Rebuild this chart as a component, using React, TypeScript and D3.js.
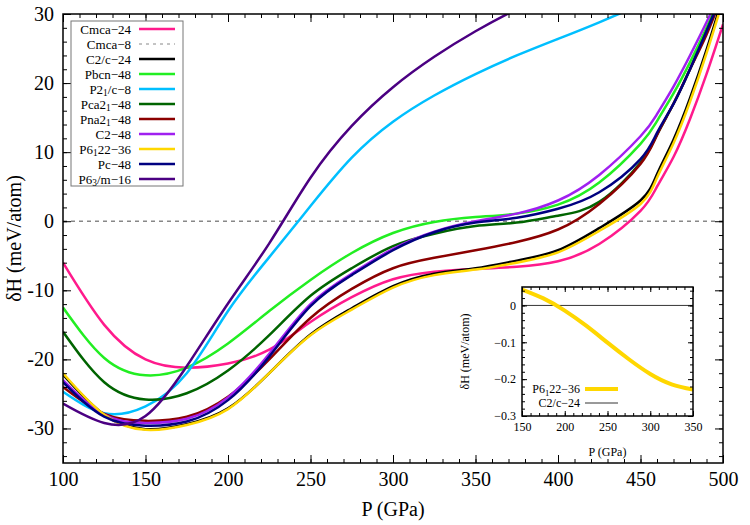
import React, { useEffect, useRef } from "react";
import * as d3 from "d3";

// pressure grid (GPa) shared by every main-panel curve
const pressure = [100, 125, 150, 175, 200, 225, 250, 275, 300, 325, 350, 375, 400, 425, 450, 460, 470, 480, 490, 500];

// enthalpy difference vs Cmca-8 (meV/atom)
const cmca24 = [-6.0, -15.0, -20.0, -21.2, -20.6, -18.6, -14.6, -11.0, -8.4, -7.3, -6.9, -6.6, -5.8, -3.3, 1.5, 5.0, 9.3, 14.8, 21.3, 28.5];
const c2c24 = [-22.2, -28.0, -30.1, -29.4, -27.1, -22.0, -16.4, -12.6, -9.4, -7.6, -6.8, -5.7, -4.2, -1.0, 3.0, 6.8, 11.8, 17.8, 24.8, 32.5];
const pbcn48 = [-12.5, -19.8, -22.3, -21.2, -17.7, -13.0, -8.5, -4.6, -1.7, -0.1, 0.6, 1.1, 2.4, 5.6, 11.2, 14.5, 18.5, 23.0, 28.0, 33.5];
const p21c8 = [-24.7, -27.8, -26.8, -22.0, -13.0, -5.2, 2.2, 9.2, 14.4, 18.2, 21.3, 24.0, 26.4, 28.8, 31.4, 32.6, 33.8, 35.0, 36.2, 37.4];
const pca21_48 = [-16.0, -23.3, -25.8, -24.9, -21.6, -16.5, -10.8, -6.8, -3.6, -1.8, -0.7, -0.2, 0.8, 2.8, 8.5, 12.5, 17.0, 22.0, 27.5, 33.5];
const pna21_48 = [-24.0, -27.9, -28.9, -28.3, -25.4, -20.0, -14.0, -9.8, -6.8, -5.3, -4.2, -3.0, -1.2, 2.5, 8.3, 12.5, 17.0, 22.0, 27.0, 33.0];
const c2_48 = [-23.0, -28.0, -29.2, -28.6, -25.5, -19.2, -12.0, -7.6, -4.0, -1.5, 0.0, 1.1, 3.0, 6.7, 12.3, 15.5, 19.5, 24.0, 28.8, 34.0];
const p6122_36 = [-22.0, -28.0, -30.2, -29.5, -27.2, -22.0, -16.5, -12.8, -9.6, -7.8, -7.0, -6.0, -4.5, -1.4, 2.5, 6.3, 11.3, 17.3, 24.3, 32.0];
const pc48 = [-23.3, -28.3, -29.6, -29.0, -25.9, -19.6, -12.3, -7.8, -4.2, -1.6, -0.2, 0.5, 1.8, 4.2, 9.0, 12.8, 17.0, 22.0, 27.5, 33.0];
const p63m16 = [-26.4, -29.2, -28.2, -21.0, -11.9, -3.2, 6.3, 13.8, 19.4, 23.8, 27.5, 30.7, 33.6, 36.3, 38.8, 39.8, 40.8, 41.8, 42.8, 43.8];

// inset: P6122-36 minus C2/c-24
const insetPressure = [150, 175, 200, 225, 250, 275, 300, 325, 350];
const insetP6122 = [0.043, 0.019, -0.014, -0.055, -0.101, -0.146, -0.186, -0.214, -0.228];

const xTicks = [100, 150, 200, 250, 300, 350, 400, 450, 500];
const yTicks = [-30, -20, -10, 0, 10, 20, 30];
const insetXTicks = [150, 200, 250, 300, 350];
const insetYTicks = [-0.3, -0.2, -0.1, 0];

// "_" marks a one-character subscript
const legendNames = ["Cmca−24", "Cmca−8", "C2/c−24", "Pbcn−48", "P2_1/c−8", "Pca2_1−48", "Pna2_1−48", "C2−48", "P6_122−36", "Pc−48", "P6_3/m−16"];
const legendColors = ["#ff1a8c", "#888888", "#000000", "#22ee22", "#00bfff", "#006400", "#8b0000", "#a020f0", "#ffd700", "#000080", "#4b0082"];

const FONT = "Liberation Serif, DejaVu Serif, serif";

const addLabel = (sel, label) => {
  const parts = label.split(/(_.)/).filter((s) => s.length);
  let shifted = false;
  parts.forEach((p) => {
    if (p.startsWith("_")) {
      sel.append("tspan").attr("dy", "0.3em").attr("font-size", "0.72em").text(p.slice(1));
      shifted = true;
    } else {
      const t = sel.append("tspan").text(p);
      if (shifted) {
        // undo the subscript shift (in the subscript's em)
        t.attr("dy", "-0.216em");
        shifted = false;
      }
    }
  });
};

const drawFrame = (g, x, y, xMajor, xMinor, yMajor, yMinor, big, small, pad, fontSize, xFmt, yFmt) => {
  const [x0, x1] = x.range();
  const [y0, y1] = y.range();
  const axes = [
    [d3.axisBottom, y0, 0, xMajor, xMinor, xFmt],
    [d3.axisTop, y1, 0, xMajor, xMinor, null],
    [d3.axisLeft, 0, x0, yMajor, yMinor, yFmt],
    [d3.axisRight, 0, x1, yMajor, yMinor, null],
  ];
  axes.forEach(([make, ty, tx, major, minor, fmt]) => {
    const scale = make === d3.axisBottom || make === d3.axisTop ? x : y;
    g.append("g")
      .attr("transform", `translate(${tx},${ty})`)
      .call(make(scale).tickValues(minor).tickSizeInner(-small).tickSizeOuter(0).tickFormat(() => ""))
      .call((s) => s.select(".domain").remove());
    g.append("g")
      .attr("transform", `translate(${tx},${ty})`)
      .call(make(scale).tickValues(major).tickSizeInner(-big).tickSizeOuter(0).tickPadding(pad).tickFormat(fmt ? fmt : () => ""))
      .call((s) => s.select(".domain").remove())
      .attr("font-size", fontSize);
  });
  g.append("rect")
    .attr("x", x0)
    .attr("y", y1)
    .attr("width", x1 - x0)
    .attr("height", y0 - y1)
    .attr("fill", "none")
    .attr("stroke", "black")
    .attr("stroke-width", 1.5);
};

const App = () => {
  const ref = useRef(null);

  useEffect(() => {
    const width = 750;
    const height = 525;
    const marginTop = 14;
    const marginRight = 27;
    const marginBottom = 62;
    const marginLeft = 63;

    const svg = d3
      .select(ref.current)
      .attr("width", width)
      .attr("height", height)
      .attr("viewBox", [0, 0, width, height])
      .style("position", "absolute")
      .style("left", "0px")
      .style("top", "0px")
      .style("background", "white");

    svg.selectAll("*").remove();

    const x = d3.scaleLinear().domain([100, 500]).range([marginLeft, width - marginRight]);
    const y = d3.scaleLinear().domain([-35, 30]).range([height - marginBottom, marginTop]);

    svg
      .append("clipPath")
      .attr("id", "plot-clip")
      .append("rect")
      .attr("x", marginLeft)
      .attr("y", marginTop)
      .attr("width", width - marginLeft - marginRight)
      .attr("height", height - marginTop - marginBottom);

    // zero reference (Cmca-8)
    svg
      .append("line")
      .attr("x1", x(100))
      .attr("x2", x(500))
      .attr("y1", y(0))
      .attr("y2", y(0))
      .attr("stroke", "#888888")
      .attr("stroke-width", 1.5)
      .attr("stroke-dasharray", "4,4");

    const series = [
      { values: cmca24, color: legendColors[0] },
      { values: c2c24, color: legendColors[2] },
      { values: pbcn48, color: legendColors[3] },
      { values: p21c8, color: legendColors[4] },
      { values: pca21_48, color: legendColors[5] },
      { values: pna21_48, color: legendColors[6] },
      { values: c2_48, color: legendColors[7] },
      { values: p6122_36, color: legendColors[8] },
      { values: pc48, color: legendColors[9] },
      { values: p63m16, color: legendColors[10] },
    ];

    const line = d3
      .line()
      .x((d) => x(d[0]))
      .y((d) => y(d[1]))
      .curve(d3.curveNatural);

    const curves = svg.append("g").attr("clip-path", "url(#plot-clip)");
    series.forEach((s) => {
      curves
        .append("path")
        .datum(pressure.map((p, i) => [p, s.values[i]]))
        .attr("fill", "none")
        .attr("stroke", s.color)
        .attr("stroke-width", 2.5)
        .attr("d", line);
    });

    drawFrame(
      svg.append("g"),
      x,
      y,
      xTicks,
      d3.range(100, 501, 10),
      yTicks,
      d3.range(-34, 31, 2),
      8,
      4,
      9,
      20,
      (d) => String(d),
      (d) => String(d)
    );

    // axis titles
    svg
      .append("text")
      .attr("x", (marginLeft + width - marginRight) / 2)
      .attr("y", 516)
      .attr("text-anchor", "middle")
      .attr("font-size", 20)
      .text("P (GPa)");
    svg
      .append("text")
      .attr("transform", `translate(21,${(marginTop + height - marginBottom) / 2}) rotate(-90)`)
      .attr("text-anchor", "middle")
      .attr("font-size", 20)
      .text("δH (meV/atom)");

    // legend
    const legend = svg.append("g");
    legend
      .append("rect")
      .attr("x", 71)
      .attr("y", 21)
      .attr("width", 112)
      .attr("height", 165)
      .attr("fill", "white")
      .attr("stroke", "#777")
      .attr("stroke-width", 1);
    legendNames.forEach((name, i) => {
      const ly = 29 + i * 15;
      const t = legend
        .append("text")
        .attr("x", 131)
        .attr("y", ly)
        .attr("dy", "0.35em")
        .attr("text-anchor", "end")
        .attr("font-size", 13);
      addLabel(t, name);
      legend
        .append("line")
        .attr("x1", 139)
        .attr("x2", 175)
        .attr("y1", ly)
        .attr("y2", ly)
        .attr("stroke", legendColors[i])
        .attr("stroke-width", i === 1 ? 1 : 2.5)
        .attr("stroke-dasharray", i === 1 ? "3,4" : null);
    });

    // inset
    const ix = d3.scaleLinear().domain([150, 350]).range([522, 693]);
    const iy = d3.scaleLinear().domain([-0.3, 0.05]).range([416, 287]);
    const inset = svg.append("g");
    inset
      .append("rect")
      .attr("x", 522)
      .attr("y", 287)
      .attr("width", 171)
      .attr("height", 129)
      .attr("fill", "white");
    inset
      .append("line")
      .attr("x1", ix(150))
      .attr("x2", ix(350))
      .attr("y1", iy(0))
      .attr("y2", iy(0))
      .attr("stroke", "black")
      .attr("stroke-width", 0.8);
    inset
      .append("path")
      .datum(insetPressure.map((p, i) => [p, insetP6122[i]]))
      .attr("fill", "none")
      .attr("stroke", legendColors[8])
      .attr("stroke-width", 4)
      .attr(
        "d",
        d3
          .line()
          .x((d) => ix(d[0]))
          .y((d) => iy(d[1]))
          .curve(d3.curveNatural)
      );
    drawFrame(
      inset.append("g"),
      ix,
      iy,
      insetXTicks,
      d3.range(150, 351, 10),
      insetYTicks,
      d3.range(-0.3, 0.051, 0.02),
      5,
      3,
      6,
      12,
      (d) => String(d),
      (d) => (d === 0 ? "0" : d3.format(".1f")(d))
    );
    inset
      .append("text")
      .attr("x", (522 + 693) / 2)
      .attr("y", 456)
      .attr("text-anchor", "middle")
      .attr("font-size", 12)
      .text("P (GPa)");
    inset
      .append("text")
      .attr("transform", `translate(469,${(287 + 416) / 2}) rotate(-90)`)
      .attr("text-anchor", "middle")
      .attr("font-size", 12)
      .text("δH (meV/atom)");
    const insetLegend = [
      { name: "P6_122−36", color: legendColors[8], w: 4 },
      { name: "C2/c−24", color: "black", w: 0.8 },
    ];
    insetLegend.forEach((d, i) => {
      const ly = 389 + i * 14;
      const t = inset
        .append("text")
        .attr("x", 580)
        .attr("y", ly)
        .attr("dy", "0.35em")
        .attr("text-anchor", "end")
        .attr("font-size", 12);
      addLabel(t, d.name);
      inset
        .append("line")
        .attr("x1", 585)
        .attr("x2", 618)
        .attr("y1", ly)
        .attr("y2", ly)
        .attr("stroke", d.color)
        .attr("stroke-width", d.w);
    });

    // serif everywhere, overriding the axis defaults
    svg.selectAll("text").style("font-family", FONT).attr("fill", "black");
  }, []);

  return <svg ref={ref}></svg>;
};

export default App;
